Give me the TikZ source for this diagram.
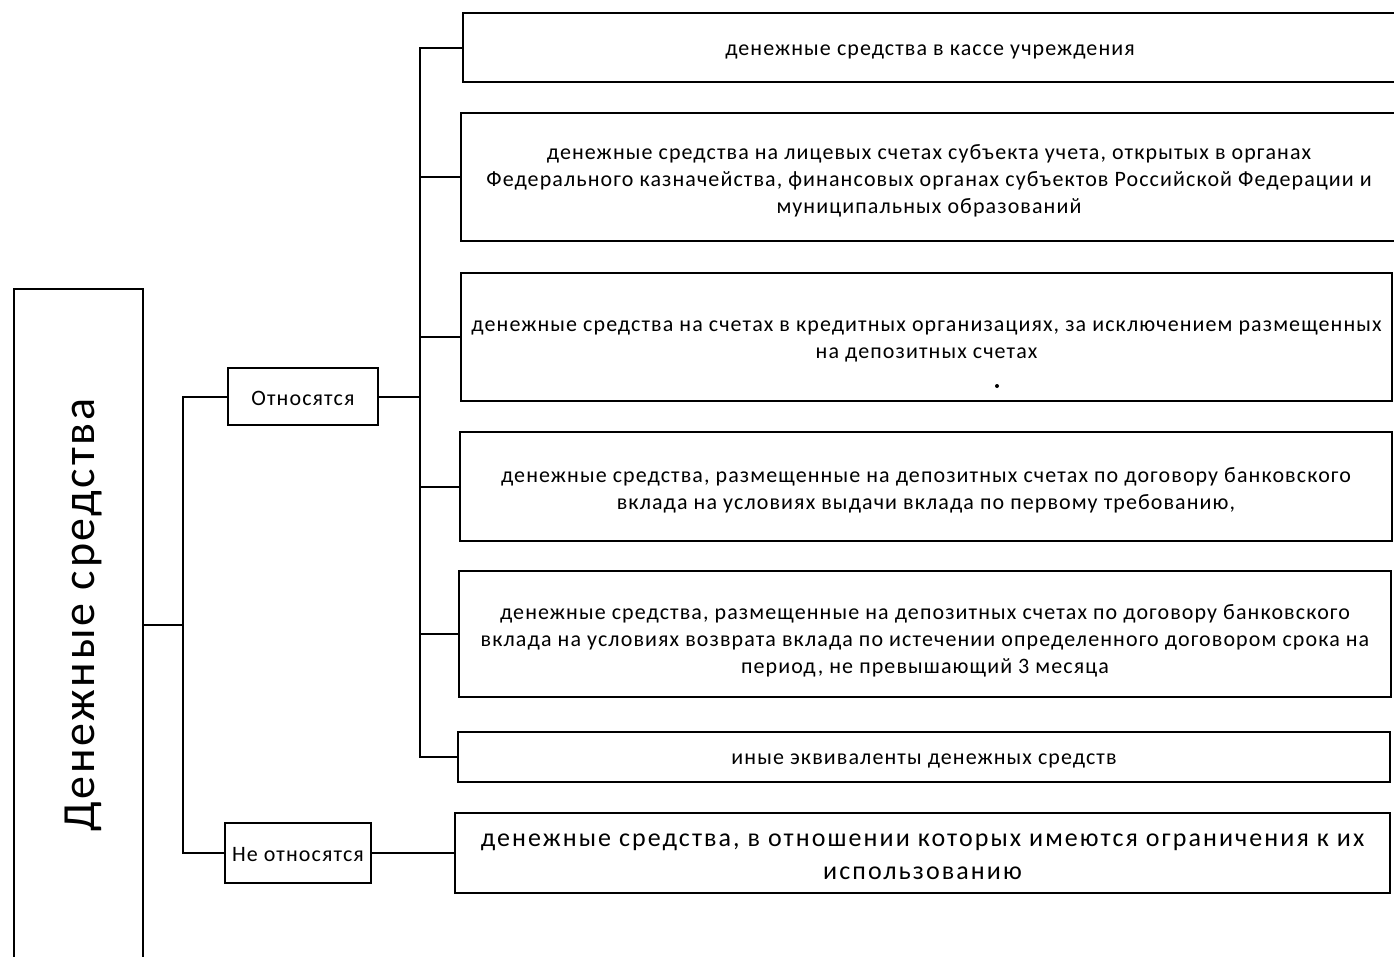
\documentclass[tikz,border=0pt]{standalone}
\usepackage{fontspec}
\setmainfont{Carlito}
\newfontfamily\boxfont[LetterSpace=5]{Carlito}
\newfontfamily\titlefont[LetterSpace=6]{Carlito}
\newfontfamily\bigboxfont[LetterSpace=8]{Carlito}
\begin{document}
\begin{tikzpicture}[x=1pt,y=-1pt,
  box/.style={draw,line width=2pt,inner sep=0pt},
  txt/.style={inner sep=0pt,align=center,yshift=-4pt,
    font=\boxfont\fontsize{22}{27}\selectfont},
  conn/.style={line width=2pt}]
\useasboundingbox (0,0) rectangle (1394,956);
% root
\node[box,minimum width=129pt,minimum height=711pt] (root) at (78.5,644.5) {};
\node[rotate=90,font=\titlefont\fontsize{46}{50}\selectfont] (roottext) at (84,615) {Денежные средства};
% level 1
\node[box,minimum width=150pt,minimum height=57pt] (otn) at (303,396.5) {};
\node[txt,yshift=2pt] (otntext) at (otn) {Относятся};
\node[box,minimum width=146pt,minimum height=60pt] (neotn) at (298,853) {};
\node[txt,yshift=2pt] (neotntext) at (neotn) {Не относятся};
% level 2
\node[box,minimum width=940pt,minimum height=69pt] (b1) at (933,47.5) {};
\node[txt] (t1) at (930,47.5) {денежные средства в кассе учреждения};
\node[box,minimum width=940pt,minimum height=128pt] (b2) at (931,177) {};
\node[txt] (t2) at (929,177) {денежные средства на лицевых счетах субъекта учета, открытых в органах\\Федерального казначейства, финансовых органах субъектов Российской Федерации и\\муниципальных образований};
\node[box,minimum width=931pt,minimum height=128pt] (b3) at (926.5,337) {};
\node[txt] (t3) at (b3) {денежные средства на счетах в кредитных организациях, за исключением размещенных\\на депозитных счетах};
\node[box,minimum width=932pt,minimum height=109pt] (b4) at (926,486.5) {};
\node[txt] (t4) at (b4) {денежные средства, размещенные на депозитных счетах по договору банковского\\вклада на условиях выдачи вклада по первому требованию,};
\node[box,minimum width=932pt,minimum height=126pt] (b5) at (925,634) {};
\node[txt] (t5) at (925,637) {денежные средства, размещенные на депозитных счетах по договору банковского\\вклада на условиях возврата вклада по истечении определенного договором срока на\\период, не превышающий 3 месяца};
\node[box,minimum width=932pt,minimum height=50pt] (b6) at (924,757) {};
\node[txt] (t6) at (b6) {иные эквиваленты денежных средств};
\node[box,minimum width=935pt,minimum height=80pt] (b7) at (922.5,853) {};
\node[txt,font=\bigboxfont\fontsize{26}{33}\selectfont] (t7) at (b7) {денежные средства, в отношении которых имеются ограничения к их\\использованию};
\fill (997,386) circle (2pt);
% connectors
\coordinate (j1) at (183,625);
\coordinate (j2) at (420,396.5);
\draw[conn] (j1 -| root.east) -- (j1);
\draw[conn] (otn.west) -| (j1) |- (neotn.west);
\draw[conn] (otn.east) -- (j2);
\foreach \b in {b1,b2,b3,b4,b5,b6} \draw[conn] (j2) |- (\b.west);
\draw[conn] (neotn.east) -- (b7.west);
\end{tikzpicture}
\end{document}
